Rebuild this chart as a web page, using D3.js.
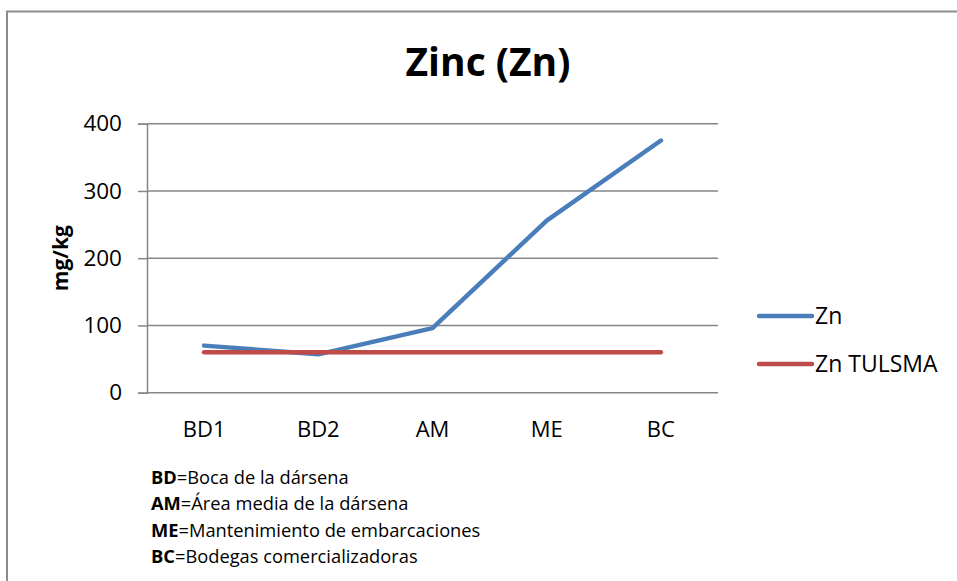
<!DOCTYPE html>
<html>
<head>
<meta charset="utf-8">
<script src="https://cdn.jsdelivr.net/npm/d3@7"></script>
<style>
  html, body { margin: 0; padding: 0; background: #fff; }
  svg { display: block; }
  text { font-family: "Open Sans", "DejaVu Sans", sans-serif; fill: #000; }
</style>
</head>
<body>
<svg id="chart" width="957" height="581"></svg>
<script>
const categories = ["BD1", "BD2", "AM", "ME", "BC"];
const znValues = [70, 57, 96, 256, 375];
const tulsmaValues = [60, 60, 60, 60, 60];
const yTicks = [0, 100, 200, 300, 400];
const seriesNames = ["Zn", "Zn TULSMA"];
const seriesColors = ["#4a7ebb", "#be4b48"];
const titleText = "Zinc (Zn)";
const yTitle = "mg/kg";
const notes = [
  ["BD", "=Boca de la dársena"],
  ["AM", "=Área media de la dársena"],
  ["ME", "=Mantenimiento de embarcaciones"],
  ["BC", "=Bodegas comercializadoras"]
];

const svg = d3.select("#chart");
const plot = { left: 147, right: 718, top: 123.7, bottom: 392.7 };

// outer border
svg.append("rect")
  .attr("x", 7).attr("y", 11.5)
  .attr("width", 1000).attr("height", 700)
  .attr("fill", "none")
  .attr("stroke", "#8c8c8c")
  .attr("stroke-width", 2);

const x = d3.scaleBand().domain(categories).range([plot.left, plot.right]);
const y = d3.scaleLinear().domain([0, 400]).range([plot.bottom, plot.top]);

// y axis with ticks
const yAxis = d3.axisLeft(y).tickValues(yTicks).tickSize(9).tickPadding(8).tickFormat(d3.format("d"));
const gy = svg.append("g").attr("transform", `translate(${plot.left},0)`).call(yAxis);
gy.select(".domain").attr("stroke", "#868686").attr("stroke-width", 1.5);
gy.selectAll(".tick line").attr("stroke", "#868686").attr("stroke-width", 1.5);
gy.selectAll(".tick text").attr("font-size", 22.5).attr("font-family", "Open Sans").attr("fill", "#000").attr("x", -25);

// gridlines
svg.append("g").selectAll("line").data(yTicks).join("line")
  .attr("x1", plot.left).attr("x2", plot.right)
  .attr("y1", d => y(d)).attr("y2", d => y(d))
  .attr("stroke", "#868686").attr("stroke-width", 1.5);

// x labels
const xAxis = d3.axisBottom(x).tickSize(0).tickPadding(0);
const gx = svg.append("g").attr("transform", `translate(0,${plot.bottom})`).call(xAxis);
gx.select(".domain").remove();
gx.selectAll(".tick text").attr("font-size", 22).attr("font-family", "Open Sans")
  .attr("fill", "#000").attr("dy", null).attr("y", 44);

// lines
const line = d3.line().x((d, i) => x(categories[i]) + x.bandwidth() / 2).y(d => y(d));
[znValues, tulsmaValues].forEach((vals, i) => {
  svg.append("path").datum(vals)
    .attr("d", line)
    .attr("fill", "none")
    .attr("stroke", seriesColors[i])
    .attr("stroke-width", 4.5)
    .attr("stroke-linecap", "round")
    .attr("stroke-linejoin", "round");
});

// title
svg.append("text").attr("x", 488).attr("y", 76)
  .attr("text-anchor", "middle").attr("font-size", 39).attr("font-weight", "bold")
  .text(titleText);

// y title
svg.append("text")
  .attr("transform", `translate(68,${(plot.top + plot.bottom) / 2}) rotate(-90)`)
  .attr("text-anchor", "middle").attr("font-size", 21).attr("font-weight", "bold")
  .text(yTitle);

// legend
const legendY = [316, 364];
seriesNames.forEach((name, i) => {
  svg.append("line")
    .attr("x1", 759).attr("x2", 812)
    .attr("y1", legendY[i]).attr("y2", legendY[i])
    .attr("stroke", seriesColors[i]).attr("stroke-width", 4.5).attr("stroke-linecap", "round");
  svg.append("text").attr("x", 815).attr("y", legendY[i] + 8)
    .attr("font-size", 23).text(name);
});

// notes
notes.forEach((n, i) => {
  const t = svg.append("text").attr("x", 151).attr("y", 484 + i * 26.3).attr("font-size", 18.3);
  t.append("tspan").attr("font-weight", "bold").text(n[0]);
  t.append("tspan").text(n[1]);
});
</script>
</body>
</html>
